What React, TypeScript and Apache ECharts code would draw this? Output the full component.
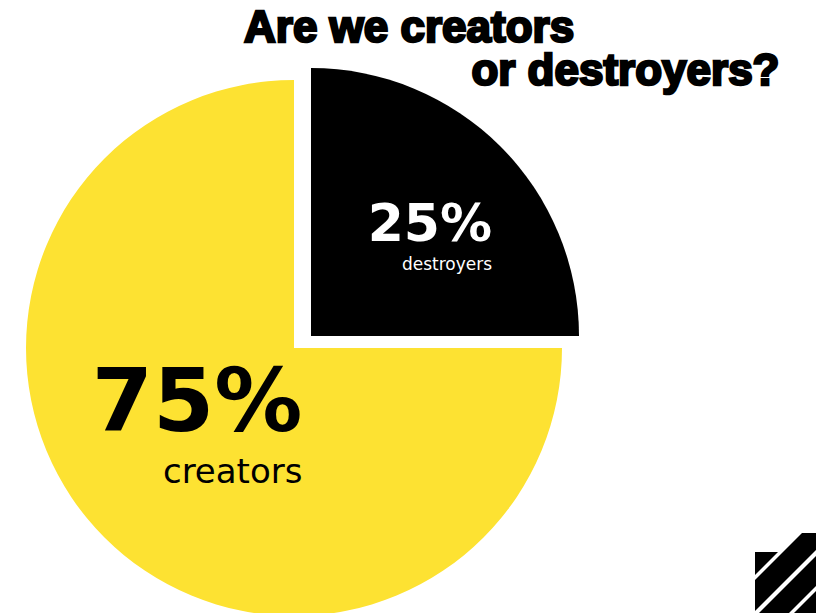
import React, { useEffect, useRef } from "react";
import * as echarts from "echarts";

const categories = ["destroyers", "creators"];
const values = [25, 75];
const percentLabels = ["25%", "75%"];
const titleLines = ["Are we creators", "or destroyers?"];
const sliceColors = ["#000000", "#FDE232"];
const labelColors = ["#ffffff", "#000000"];

export default function App() {
  const ref = useRef<HTMLDivElement>(null);
  useEffect(() => {
    const chart = echarts.init(ref.current!, null, { renderer: "svg" });

    const mkData = (visibleIdx: number) =>
      categories.map((name, i) => ({
        name,
        value: values[i],
        itemStyle: { color: i === visibleIdx ? sliceColors[i] : "rgba(0,0,0,0)" },
        label: { show: i === visibleIdx },
      }));

    const formatter = (p: any) =>
      `{big|${percentLabels[p.dataIndex]}}\n{small|${p.name}}`;

    const titleStyle = {
      fontFamily: "'Liberation Sans', Arial, sans-serif",
      fontWeight: "bold",
      fontSize: 44,
      color: "#000",
      textBorderColor: "#000",
      textBorderWidth: 2.5,
    };

    const logo = [
      [[755, 552], [778, 552], [755, 575]],
      [[755, 580], [802, 533], [816, 533], [816, 550], [755, 611]],
      [[759, 613], [816, 556], [816, 586], [789, 613]],
      [[794, 613], [816, 591], [816, 613]],
    ];

    chart.setOption({
      animation: false,
      backgroundColor: "#ffffff",
      title: [
        { text: titleLines[0], left: 244, top: 4, padding: 0, textStyle: titleStyle },
        { text: titleLines[1], right: 34, top: 47, padding: 0, textStyle: titleStyle },
      ],
      series: [
        {
          type: "pie",
          silent: true,
          center: [294, 348],
          radius: 268,
          startAngle: 90,
          clockwise: true,
          data: mkData(1),
          label: {
            position: "inside",
            formatter,
            rich: {
              big: {
                fontFamily: "'DejaVu Sans', sans-serif",
                fontWeight: "bold",
                fontSize: 88,
                lineHeight: 80,
                color: labelColors[1],
                align: "right",
              },
              small: {
                fontFamily: "'DejaVu Sans', sans-serif",
                fontSize: 34,
                lineHeight: 60,
                color: labelColors[1],
                align: "right",
              },
            },
          },
          labelLayout: { dy: -14 },
          labelLine: { show: false },
        },
        {
          type: "pie",
          silent: true,
          center: [311, 336],
          radius: 268,
          startAngle: 90,
          clockwise: true,
          data: mkData(0),
          label: {
            position: "inside",
            formatter,
            rich: {
              big: {
                fontFamily: "'DejaVu Sans', sans-serif",
                fontWeight: "bold",
                fontSize: 52,
                lineHeight: 52,
                color: labelColors[0],
                align: "right",
              },
              small: {
                fontFamily: "'DejaVu Sans', sans-serif",
                fontSize: 17,
                lineHeight: 30,
                color: labelColors[0],
                align: "right",
              },
            },
          },
          labelLayout: { dx: 22, dy: -1 },
          labelLine: { show: false },
        },
      ],
      graphic: logo.map((pts) => ({
        type: "polygon",
        shape: { points: pts },
        style: { fill: "#000" },
        silent: true,
      })),
    });
    return () => chart.dispose();
  }, []);
  return (
    <div
      ref={ref}
      style={{ position: "fixed", left: 0, top: 0, width: 816, height: 613 }}
    />
  );
}
